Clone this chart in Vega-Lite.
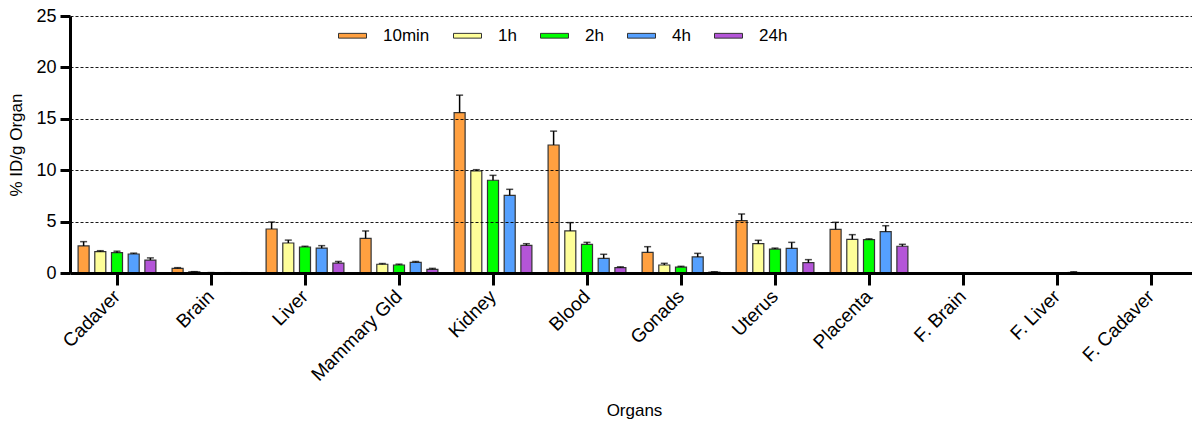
{
  "$schema": "https://vega.github.io/schema/vega-lite/v6.json",
  "autosize": "none",
  "padding": {"left": 70, "top": 16, "right": 0, "bottom": 154},
  "width": 1128,
  "height": 257,
  "background": "white",
  "config": {
    "font": "Liberation Sans",
    "view": {"stroke": null},
    "axis": {"labelFont": "Liberation Sans", "titleFont": "Liberation Sans", "labelColor": "black", "titleColor": "black", "titleFontWeight": "normal"}
  },
  "data": {
    "values": [
      {"organ": "Cadaver", "time": "10min", "value": 2.63, "upper": 3.05},
      {"organ": "Cadaver", "time": "1h", "value": 2.07, "upper": 2.17},
      {"organ": "Cadaver", "time": "2h", "value": 1.98, "upper": 2.12},
      {"organ": "Cadaver", "time": "4h", "value": 1.85, "upper": 1.93},
      {"organ": "Cadaver", "time": "24h", "value": 1.26, "upper": 1.47},
      {"organ": "Brain", "time": "10min", "value": 0.45, "upper": 0.52},
      {"organ": "Brain", "time": "1h", "value": 0.1, "upper": 0.13},
      {"organ": "Brain", "time": "2h", "value": 0.03, "upper": 0.04},
      {"organ": "Brain", "time": "4h", "value": 0.02, "upper": 0.03},
      {"organ": "Brain", "time": "24h", "value": 0.02, "upper": 0.03},
      {"organ": "Liver", "time": "10min", "value": 4.28, "upper": 4.96},
      {"organ": "Liver", "time": "1h", "value": 2.92, "upper": 3.2},
      {"organ": "Liver", "time": "2h", "value": 2.53, "upper": 2.6},
      {"organ": "Liver", "time": "4h", "value": 2.42, "upper": 2.66},
      {"organ": "Liver", "time": "24h", "value": 0.97, "upper": 1.12},
      {"organ": "Mammary Gld", "time": "10min", "value": 3.37, "upper": 4.09},
      {"organ": "Mammary Gld", "time": "1h", "value": 0.85, "upper": 0.92},
      {"organ": "Mammary Gld", "time": "2h", "value": 0.78, "upper": 0.86},
      {"organ": "Mammary Gld", "time": "4h", "value": 1.04, "upper": 1.12},
      {"organ": "Mammary Gld", "time": "24h", "value": 0.36, "upper": 0.45},
      {"organ": "Kidney", "time": "10min", "value": 15.6, "upper": 17.3},
      {"organ": "Kidney", "time": "1h", "value": 9.92, "upper": 10.05},
      {"organ": "Kidney", "time": "2h", "value": 9.02, "upper": 9.5},
      {"organ": "Kidney", "time": "4h", "value": 7.56, "upper": 8.14},
      {"organ": "Kidney", "time": "24h", "value": 2.69, "upper": 2.85},
      {"organ": "Blood", "time": "10min", "value": 12.45, "upper": 13.8},
      {"organ": "Blood", "time": "1h", "value": 4.09, "upper": 4.9},
      {"organ": "Blood", "time": "2h", "value": 2.79, "upper": 2.98},
      {"organ": "Blood", "time": "4h", "value": 1.43, "upper": 1.82},
      {"organ": "Blood", "time": "24h", "value": 0.52, "upper": 0.6},
      {"organ": "Gonads", "time": "10min", "value": 2.01, "upper": 2.56},
      {"organ": "Gonads", "time": "1h", "value": 0.78, "upper": 0.94},
      {"organ": "Gonads", "time": "2h", "value": 0.58, "upper": 0.65},
      {"organ": "Gonads", "time": "4h", "value": 1.56, "upper": 1.91},
      {"organ": "Gonads", "time": "24h", "value": 0.08, "upper": 0.12},
      {"organ": "Uterus", "time": "10min", "value": 5.09, "upper": 5.74},
      {"organ": "Uterus", "time": "1h", "value": 2.85, "upper": 3.18},
      {"organ": "Uterus", "time": "2h", "value": 2.33, "upper": 2.42},
      {"organ": "Uterus", "time": "4h", "value": 2.4, "upper": 2.98},
      {"organ": "Uterus", "time": "24h", "value": 1.0, "upper": 1.3},
      {"organ": "Placenta", "time": "10min", "value": 4.25, "upper": 4.93},
      {"organ": "Placenta", "time": "1h", "value": 3.28, "upper": 3.73},
      {"organ": "Placenta", "time": "2h", "value": 3.24, "upper": 3.32},
      {"organ": "Placenta", "time": "4h", "value": 4.02, "upper": 4.6},
      {"organ": "Placenta", "time": "24h", "value": 2.6, "upper": 2.79},
      {"organ": "F. Brain", "time": "10min", "value": 0, "upper": 0},
      {"organ": "F. Brain", "time": "1h", "value": 0, "upper": 0},
      {"organ": "F. Brain", "time": "2h", "value": 0, "upper": 0},
      {"organ": "F. Brain", "time": "4h", "value": 0, "upper": 0},
      {"organ": "F. Brain", "time": "24h", "value": 0, "upper": 0},
      {"organ": "F. Liver", "time": "10min", "value": 0, "upper": 0},
      {"organ": "F. Liver", "time": "1h", "value": 0, "upper": 0},
      {"organ": "F. Liver", "time": "2h", "value": 0, "upper": 0},
      {"organ": "F. Liver", "time": "4h", "value": 0.05, "upper": 0.12},
      {"organ": "F. Liver", "time": "24h", "value": 0, "upper": 0},
      {"organ": "F. Cadaver", "time": "10min", "value": 0, "upper": 0},
      {"organ": "F. Cadaver", "time": "1h", "value": 0, "upper": 0},
      {"organ": "F. Cadaver", "time": "2h", "value": 0, "upper": 0},
      {"organ": "F. Cadaver", "time": "4h", "value": 0, "upper": 0},
      {"organ": "F. Cadaver", "time": "24h", "value": 0, "upper": 0}
    ]
  },
  "encoding": {
    "x": {
      "field": "organ", "type": "nominal", "sort": null,
      "scale": {"paddingInner": 0, "paddingOuter": 0},
      "axis": {
        "title": "Organs", "titleFontSize": 17, "titleY": 137, "titleBaseline": "middle",
        "labelAngle": -45, "labelAlign": "right", "labelBaseline": "middle",
        "labelFontSize": 19, "labelPadding": 8,
        "domainColor": "black", "domainWidth": 3,
        "tickColor": "black", "tickWidth": 3, "tickSize": 12,
        "zindex": 1
      }
    },
    "xOffset": {
      "field": "time", "type": "nominal", "sort": ["10min", "1h", "2h", "4h", "24h"],
      "scale": {"paddingInner": 0.34, "paddingOuter": 0.485}
    }
  },
  "layer": [
    {
      "mark": {"type": "bar", "stroke": "#333", "strokeWidth": 1.2},
      "encoding": {
        "y": {
          "field": "value", "type": "quantitative",
          "scale": {"domain": [0, 25], "nice": false},
          "axis": {
            "title": "% ID/g Organ", "titleFontSize": 17, "titlePadding": 10,
            "values": [0, 5, 10, 15, 20, 25],
            "labelFontSize": 18, "labelPadding": 4,
            "domainColor": "black", "domainWidth": 3,
            "tickColor": "black", "tickWidth": 3, "tickSize": 10,
            "grid": true, "gridColor": "black", "gridDash": [3, 2], "gridWidth": 1, "gridOpacity": 0.9,
            "zindex": 1
          }
        },
        "color": {
          "field": "time", "type": "nominal", "sort": ["10min", "1h", "2h", "4h", "24h"],
          "scale": {"domain": ["10min", "1h", "2h", "4h", "24h"], "range": ["#FFA040", "#FFFF99", "#00FF00", "#55A0FF", "#B455D8"]},
          "legend": {
            "title": null, "orient": "none", "direction": "horizontal",
            "legendX": 268, "legendY": 5, "padding": 0,
            "symbolType": "M-1,-0.17L1,-0.17L1,0.17L-1,0.17Z", "symbolSize": 784,
            "symbolStrokeColor": "#333", "symbolStrokeWidth": 1,
            "labelFontSize": 17, "labelOffset": 16, "columnPadding": 21,
            "labelFont": "Liberation Sans", "labelColor": "black"
          }
        }
      }
    },
    {
      "mark": {"type": "rule", "color": "black", "strokeWidth": 1.5},
      "encoding": {
        "y": {"field": "value", "type": "quantitative"},
        "y2": {"field": "upper"}
      }
    },
    {
      "mark": {"type": "tick", "color": "black", "thickness": 1.5, "size": 7},
      "encoding": {
        "y": {"field": "upper", "type": "quantitative"}
      }
    }
  ]
}
